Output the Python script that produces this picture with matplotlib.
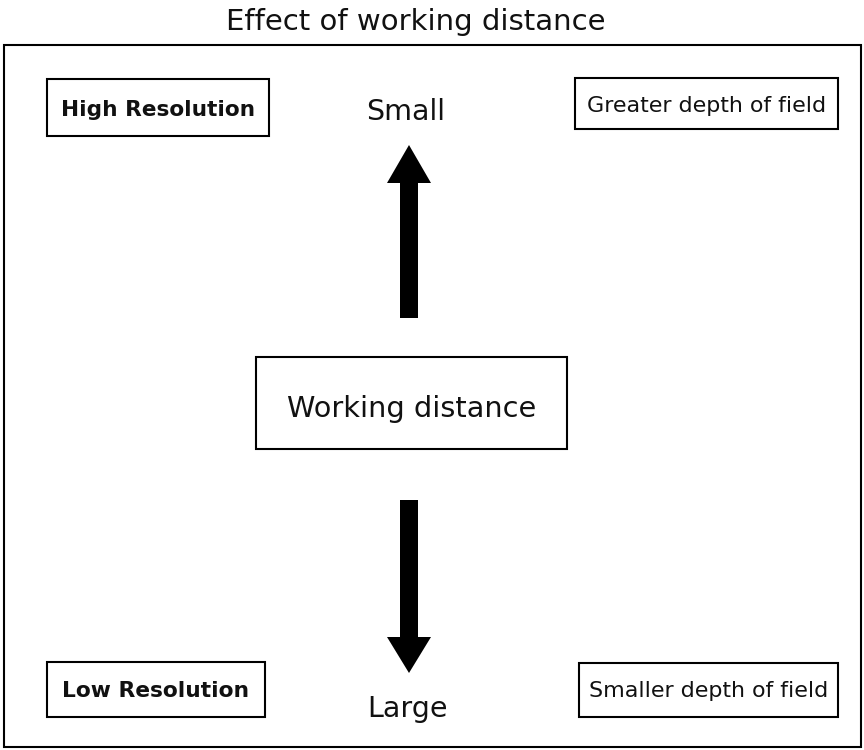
import matplotlib.pyplot as plt
from matplotlib.patches import Rectangle, FancyArrow

title = "Effect of working distance"
center_label = "Working distance"
top_label = "Small"
bottom_label = "Large"
left_labels = ["High Resolution", "Low Resolution"]
right_labels = ["Greater depth of field", "Smaller depth of field"]

fig = plt.figure(figsize=(8.64, 7.5), dpi=100)
ax = fig.add_axes([0, 0, 1, 1])
ax.set_xlim(0, 864)
ax.set_ylim(750, 0)
ax.axis('off')

LW = 1.5
TXT = '#111111'

def box(x0, y0, x1, y1, text, base, size, weight='normal'):
    ax.add_patch(Rectangle((x0, y0), x1 - x0, y1 - y0, fill=False,
                           edgecolor='black', linewidth=LW))
    ax.text((x0 + x1) / 2, base, text, ha='center', va='baseline',
            fontsize=size, fontweight=weight, color=TXT)

# outer frame
ax.add_patch(Rectangle((4, 45), 857, 702, fill=False, edgecolor='black', linewidth=LW))
ax.text(416, 30, title, ha='center', va='baseline', fontsize=21, color=TXT)

# corner boxes
box(47, 79, 269, 136, left_labels[0], 116, 15.6, 'bold')
box(47, 662, 265, 717, left_labels[1], 697, 15.7, 'bold')
box(575, 78, 838, 129, right_labels[0], 112, 15.9)
box(579, 663, 838, 717, right_labels[1], 697, 15.9)

# centre box
box(256, 357, 567, 449, center_label, 417, 20.7)

ax.text(406, 120, top_label, ha='center', va='baseline', fontsize=20.5, color=TXT)
ax.text(408, 717, bottom_label, ha='center', va='baseline', fontsize=20.5, color=TXT)

# arrows
ax.add_patch(FancyArrow(409, 318, 0, -173, width=18, head_width=44, head_length=38,
                        length_includes_head=True, color='black', linewidth=0))
ax.add_patch(FancyArrow(409, 500, 0, 173, width=18, head_width=44, head_length=36,
                        length_includes_head=True, color='black', linewidth=0))

fig.savefig("out.png", dpi=100)
